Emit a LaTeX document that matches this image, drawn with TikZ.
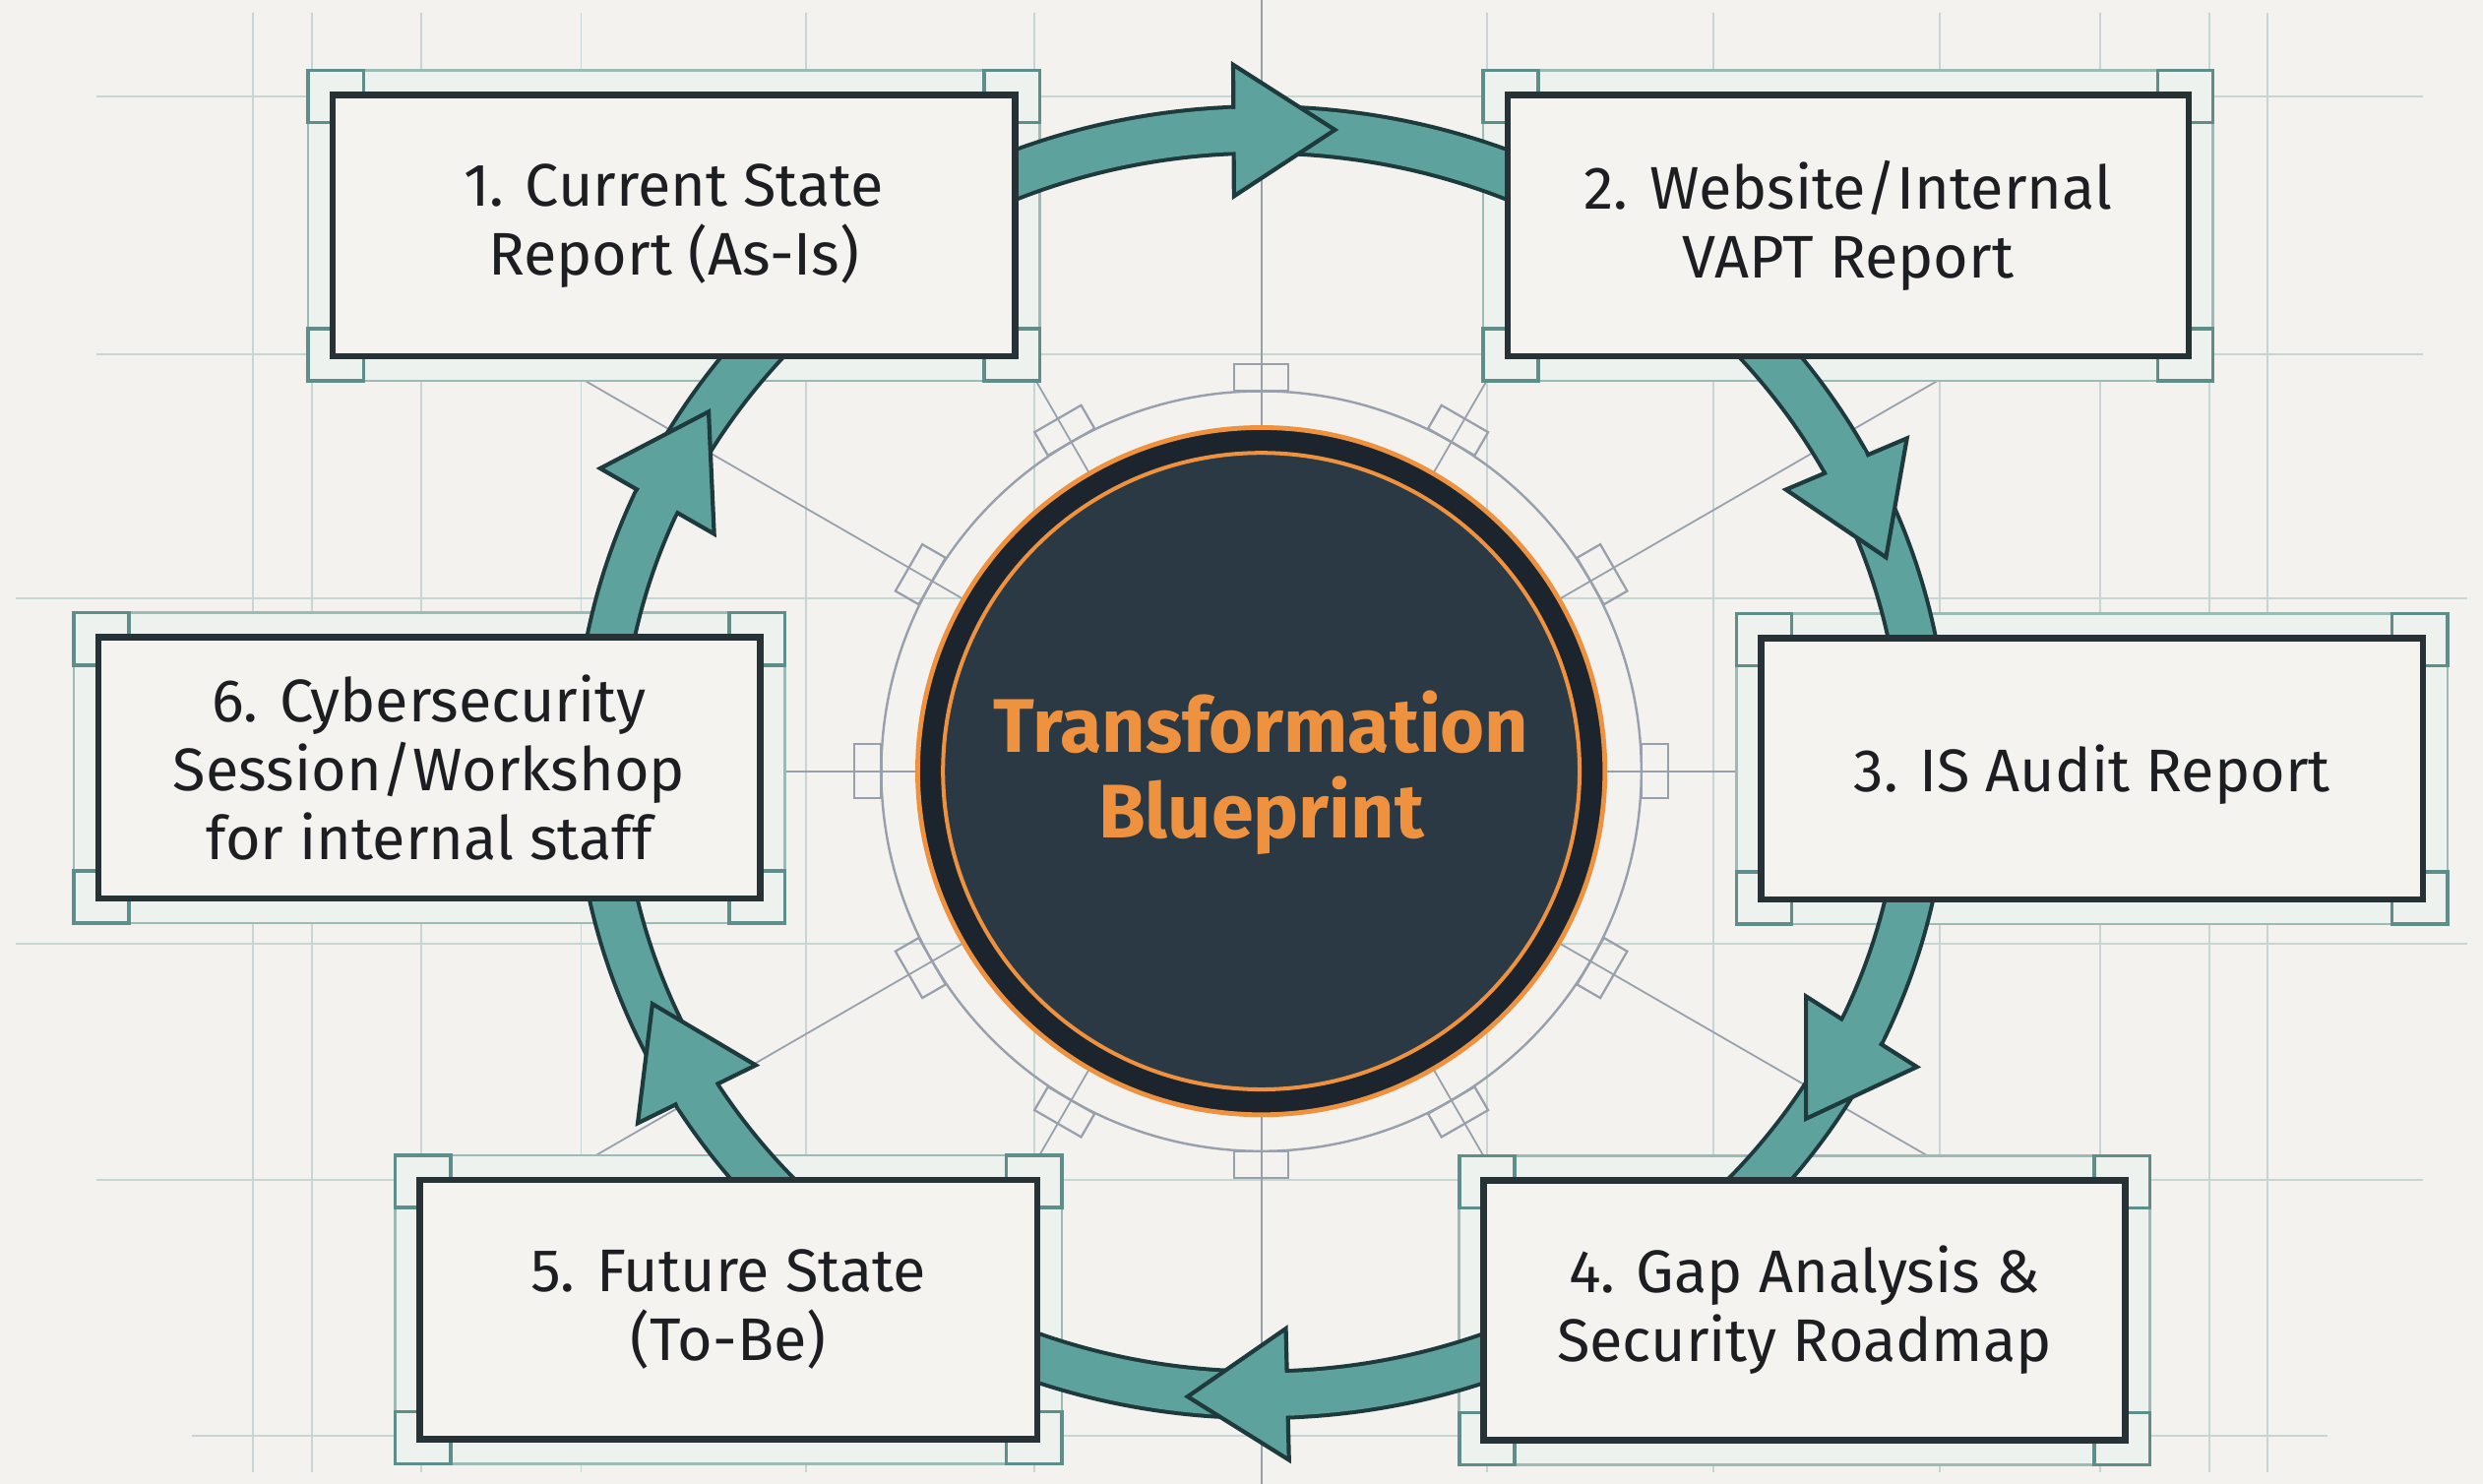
\documentclass[tikz,border=0pt]{standalone}
\usepackage{fontspec}
\setmainfont{Fira Sans}
\usetikzlibrary{calc}
\definecolor{bgc}{HTML}{F3F2EE}
\definecolor{gridc}{HTML}{C6D6D2}
\definecolor{axisc}{HTML}{98A0AD}
\definecolor{framec}{HTML}{9CBBB6}
\definecolor{cornerc}{HTML}{5E8E8A}
\definecolor{framefill}{HTML}{EDF2EF}
\definecolor{boxline}{HTML}{273236}
\definecolor{boxfill}{HTML}{F4F3EF}
\definecolor{bandc}{HTML}{5EA29D}
\definecolor{bandline}{HTML}{1E3A3D}
\definecolor{hubfill}{HTML}{2B3945}
\definecolor{hubdark}{HTML}{1C252D}
\definecolor{orangec}{HTML}{EE9240}
\definecolor{textc}{HTML}{1C1E21}
\pgfdeclarelayer{gridlayer}
\pgfdeclarelayer{framelayer}
\pgfdeclarelayer{ringlayer}
\pgfsetlayers{gridlayer,framelayer,ringlayer,main}
\newcommand{\frameit}[1]{%
  \coordinate (#1-fa) at ($(#1.north west)+(-13.5,-13.5)$);
  \coordinate (#1-fb) at ($(#1.south east)+(13.5,13.5)$);
  \draw[frameline] (#1-fa) rectangle (#1-fb);
  \draw[cornerline] (#1-fa) rectangle ++(35,33);
  \draw[cornerline] (#1-fa -| #1-fb) rectangle ++(-35,33);
  \draw[cornerline] (#1-fa |- #1-fb) rectangle ++(35,-33);
  \draw[cornerline] (#1-fb) rectangle ++(-35,-33);
}
\newcommand{\headat}[2]{%
  \filldraw[headshape] (#2) -- ($(#1)!41.5pt!90:(#2)$) -- ($(#1)!41.5pt!-90:(#2)$) -- cycle;
  \draw[bandc, line width=27] ($(#1)!-4pt!(#2)$) -- ($(#1)!12pt!(#2)$);
}
\begin{document}
\begin{tikzpicture}[x=1pt,y=-1pt,
  gridline/.style={draw=gridc, line width=1.2},
  axisline/.style={draw=axisc, line width=1.3},
  frameline/.style={draw=framec, line width=1.6, fill=framefill},
  cornerline/.style={draw=cornerc, line width=2.2},
  stepbox/.style={draw=boxline, line width=4, fill=boxfill, text=textc,
    font=\fontsize{38}{43.5}\selectfont, align=center, inner sep=0pt,
    execute at begin node={\rule{0pt}{37pt}}},
  headshape/.style={fill=bandc, draw=bandline, line width=2.6, line join=miter},
  titletext/.style={text=orangec, font=\bfseries\fontsize{48}{54}\selectfont, align=center}
]
\useasboundingbox (0,0) rectangle (1568,937);

% ---------- boxes ----------
\node[stepbox, minimum width=431, minimum height=165] (b1) at (425.5,142.5) {1. Current State\\Report (As-Is)};
\node[stepbox, minimum width=430, minimum height=165] (b2) at (1167,142.5) {2. Website/Internal\\VAPT Report};
\node[stepbox, minimum width=418, minimum height=165] (b3) at (1321,485.5) {3. IS Audit Report};
\node[stepbox, minimum width=405, minimum height=164] (b4) at (1139.5,827.5) {4. Gap Analysis \&\\Security Roadmap};
\node[stepbox, minimum width=390, minimum height=164] (b5) at (460,827) {5. Future State\\(To-Be)};
\node[stepbox, minimum width=418, minimum height=165] (b6) at (271,485) {6. Cybersecurity\\Session/Workshop\\for internal staff};

% ---------- hub ----------
\node[circle, fill=hubdark, draw=orangec, line width=3, minimum size=434, inner sep=0pt] (hub) at (796.5,487) {};
\draw[orangec, line width=2.5, fill=hubfill] (hub.center) circle [radius=201];
\node[titletext] (title) at (796.5,488) {Transformation\\Blueprint};

% ---------- background grid ----------
\begin{pgfonlayer}{gridlayer}
\fill[bgc] (0,0) rectangle (1568,937);
\foreach \gx in {160,197,266,367,509,653,939,1082,1225,1326,1395,1432}
  \draw[gridline] (\gx,8) -- (\gx,930);
\draw[gridline] (61,61) -- (1530,61);
\draw[gridline] (61,224) -- (1530,224);
\draw[gridline] (10,378) -- (1558,378);
\draw[gridline] (10,596) -- (1558,596);
\draw[gridline] (61,745) -- (1530,745);
\draw[gridline] (121,907) -- (1470,907);
% axes and radial lines
\draw[axisline] (796.5,0) -- (796.5,937);
\coordinate (r0) at (1098,487);
\coordinate (r30) at (1224.3,240);
\coordinate (r60) at (939.1,240);
\coordinate (r120) at (653.9,240);
\coordinate (r150) at (368.7,240);
\coordinate (r180) at (495,487);
\coordinate (r210) at (373.9,731);
\coordinate (r240) at (655.6,731);
\coordinate (r300) at (937.4,731);
\coordinate (r330) at (1219.1,731);
\foreach \r in {r0,r30,r60,r120,r150,r180,r210,r240,r300,r330}
  \draw[axisline, line width=1.1] (hub.center) -- (\r);
\draw[axisc, line width=1.5] (hub.center) circle [radius=240];
\foreach \a in {0,30,...,330}{
  \begin{scope}[shift={(hub.center)}, rotate=\a]
    \draw[axisc, line width=1.4] (240,-17) rectangle (257,17);
  \end{scope}
}
\end{pgfonlayer}

% ---------- frames ----------
\begin{pgfonlayer}{framelayer}
\frameit{b1}
\frameit{b2}
\frameit{b3}
\frameit{b4}
\frameit{b5}
\frameit{b6}
\end{pgfonlayer}

% ---------- cycle ring and arrow heads ----------
\begin{pgfonlayer}{ringlayer}
\coordinate (ringc) at (796.5,481.4);
\draw[bandline, line width=32] (ringc) ellipse [x radius=419, y radius=399.4];
\draw[bandc, line width=27] (ringc) ellipse [x radius=419, y radius=399.4];
\coordinate (h1b) at (779,82.4);   \coordinate (h1t) at (843,82);
\coordinate (h2b) at (1166,293);   \coordinate (h2t) at (1191,352);
\coordinate (h3b) at (1175.5,651.5); \coordinate (h3t) at (1140.5,706.5);
\coordinate (h4b) at (813,880.5);  \coordinate (h4t) at (750,882);
\coordinate (h5b) at (440,691);    \coordinate (h5t) at (412,634);
\coordinate (h6b) at (415,316.5);  \coordinate (h6t) at (447.5,260);
\headat{h1b}{h1t}
\headat{h2b}{h2t}
\headat{h3b}{h3t}
\headat{h4b}{h4t}
\headat{h5b}{h5t}
\headat{h6b}{h6t}
\end{pgfonlayer}
\end{tikzpicture}
\end{document}
